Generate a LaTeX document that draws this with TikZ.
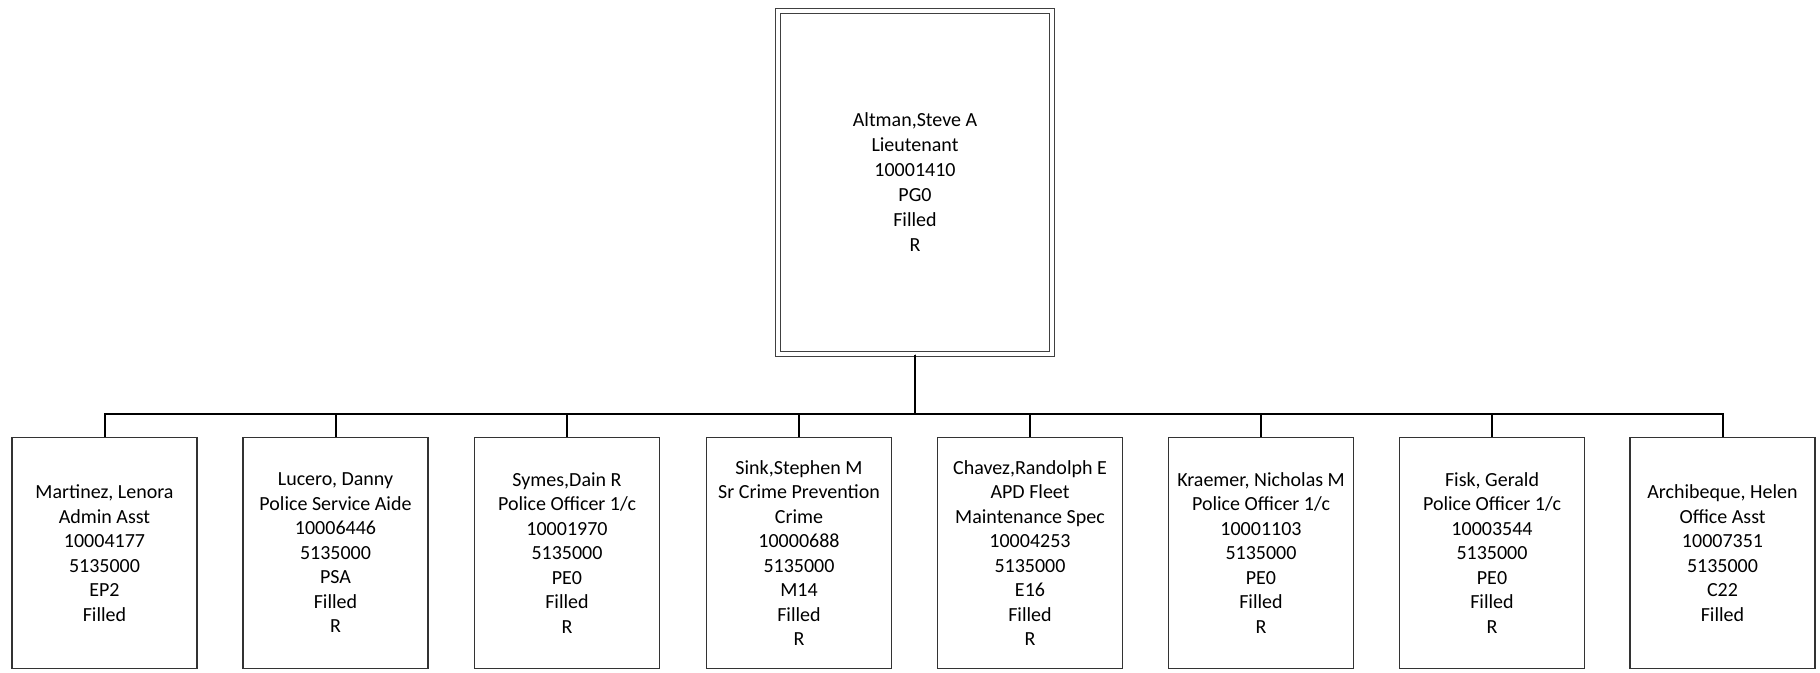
\documentclass[tikz,border=0pt]{standalone}
\usepackage{fontspec}
\setmainfont{Carlito}
\begin{document}
\begin{tikzpicture}[x=1pt,y=-1pt,
  person/.style={draw=black!80, line width=1.1pt, fill=white, minimum width=185pt, minimum height=231pt,
    align=center, inner sep=2pt, font=\fontsize{20}{24.5}\selectfont},
  boss/.style={draw=black!75, double=white, double distance=4.2pt, line width=1pt, minimum width=274pt, minimum height=343pt,
    align=center, font=\fontsize{20}{25}\selectfont},
  link/.style={draw=black, line width=2pt}]
\useasboundingbox (0,0) rectangle (1820,672);
\fill[white] (0,0) rectangle (1820,672);
\node[boss] (top) at (915,182.5) {Altman,Steve A\\Lieutenant\\10001410\\PG0\\Filled\\R};
\coordinate (bar) at (915,414);
\node[person] (c1) at (104.5,553) {Martinez, Lenora\\Admin Asst\\10004177\\5135000\\EP2\\Filled};
\node[person] (c2) at (335.5,553) {Lucero, Danny\\Police Service Aide\\10006446\\5135000\\PSA\\Filled\\R};
\node[person] (c3) at (567,553) {Symes,Dain R\\Police Officer 1/c\\10001970\\5135000\\PE0\\Filled\\R};
\node[person] (c4) at (799,553) {Sink,Stephen M\\Sr Crime Prevention\\Crime\\10000688\\5135000\\M14\\Filled\\R};
\node[person] (c5) at (1030,553) {Chavez,Randolph E\\APD Fleet\\Maintenance Spec\\10004253\\5135000\\E16\\Filled\\R};
\node[person] (c6) at (1261,553) {Kraemer, Nicholas M\\Police Officer 1/c\\10001103\\5135000\\PE0\\Filled\\R};
\node[person] (c7) at (1492,553) {Fisk, Gerald\\Police Officer 1/c\\10003544\\5135000\\PE0\\Filled\\R};
\node[person] (c8) at (1722.5,553) {Archibeque, Helen\\Office Asst\\10007351\\5135000\\C22\\Filled};
\foreach \i in {1,...,8} {
  \draw[link] (top.south) -- (bar) -| (c\i.north);
}
\end{tikzpicture}
\end{document}
